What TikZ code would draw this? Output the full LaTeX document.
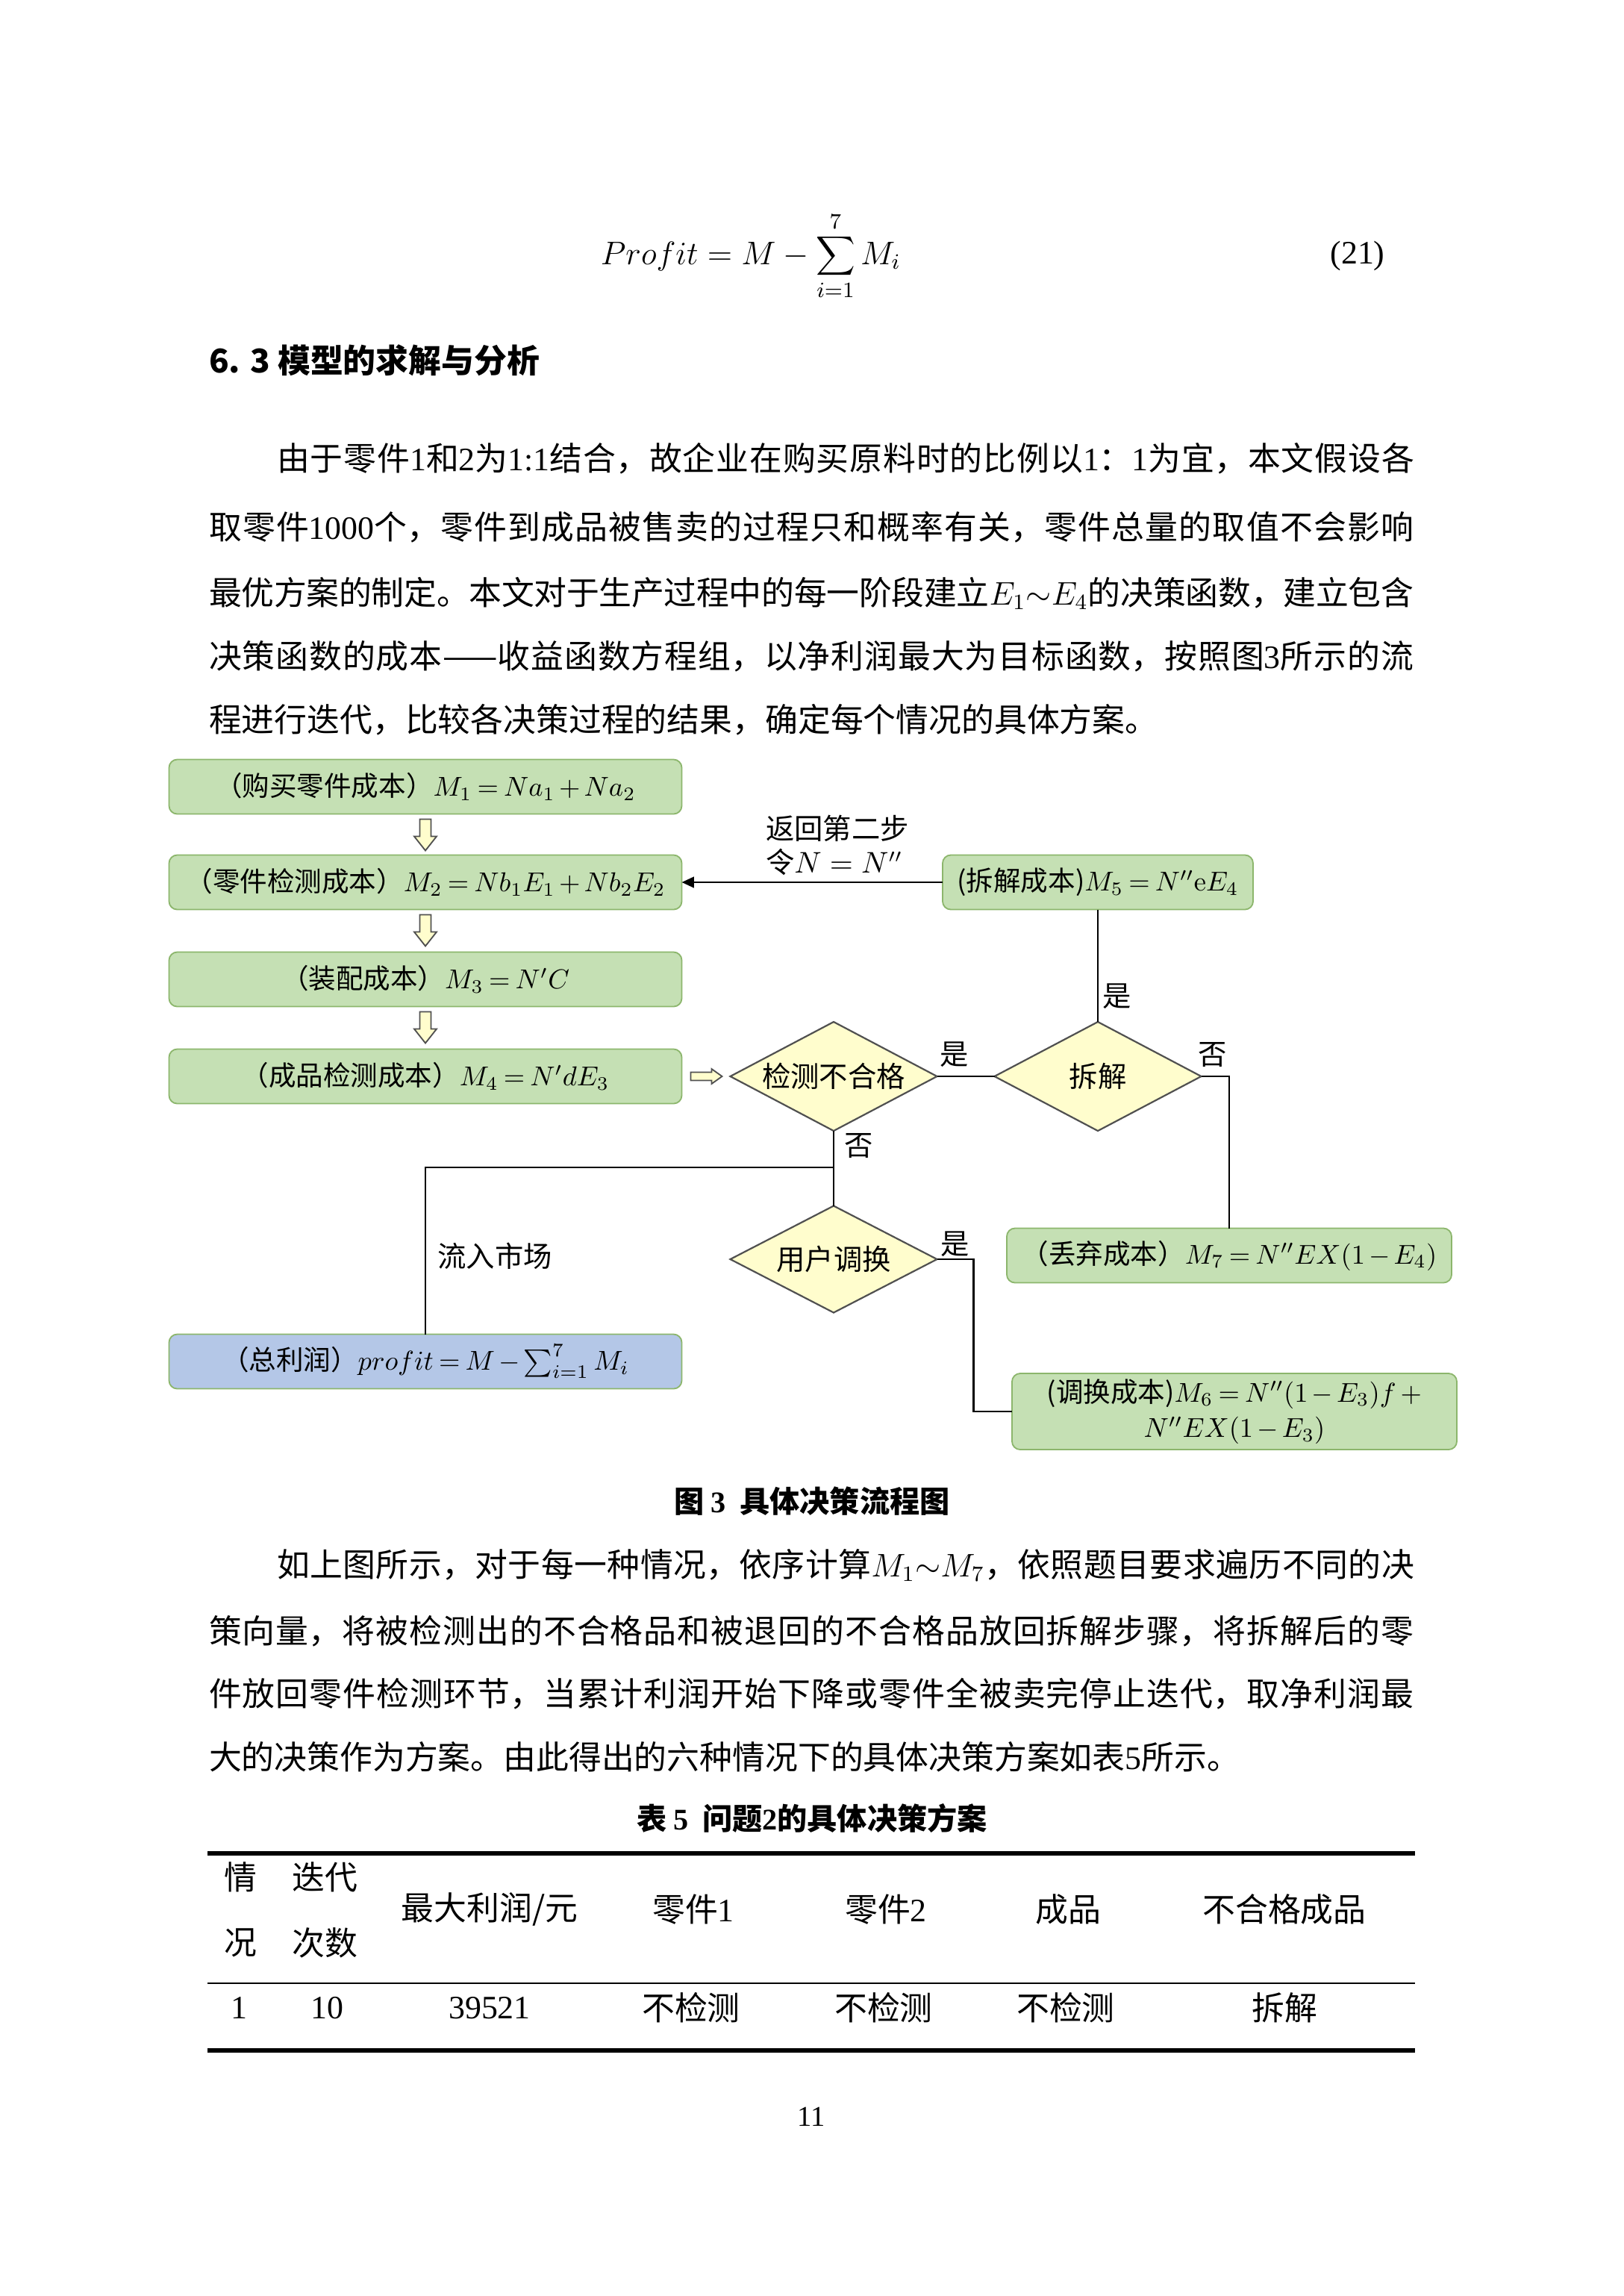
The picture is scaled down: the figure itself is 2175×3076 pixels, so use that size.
\documentclass[tikz,border=0pt]{standalone}
\usepackage[no-math]{fontspec}
\setmainfont{Noto Sans CJK SC}
\newfontfamily\lat{Liberation Serif}
\usetikzlibrary{shapes.geometric,arrows.meta,calc}
\XeTeXlinebreaklocale "zh"
\XeTeXlinebreakskip=0pt plus 3pt minus 0.6pt
\definecolor{gfill}{RGB}{197,224,180}
\definecolor{gline}{RGB}{140,182,108}
\definecolor{bfill}{RGB}{180,199,231}
\definecolor{yfill}{RGB}{255,253,205}
\definecolor{dline}{RGB}{80,80,80}
\def\upx{0.2737pt}
\newcommand\jline[2]{\parbox{#1}{\parfillskip=0pt\relax #2}}
\newcommand\tightmath{\medmuskip=2.5mu plus 1mu minus 1mu\thickmuskip=3.5mu plus 1mu}
\begin{document}
\begin{tikzpicture}[x=0.2737pt,y=-0.2737pt,
  every node/.style={inner sep=0pt, outer sep=0pt},
  body/.style={anchor=west, font=\fontsize{12}{14}\selectfont},
  txt/.style={font=\fontsize{12}{14}\selectfont},
  lbl/.style={font=\fontsize{10.5}{12.5}\selectfont},
  gbox/.style={draw=gline, fill=gfill, rounded corners=3pt, line width=0.5pt,
    minimum width=687*\upx, minimum height=73*\upx, align=center,
    font=\fontsize{10}{13}\selectfont\tightmath},
  bbox/.style={gbox, fill=bfill},
  dia/.style={diamond, draw=dline, fill=yfill, line width=0.6pt, aspect=1.9,
    minimum width=277*\upx, minimum height=146*\upx,
    font=\fontsize{10.5}{12.5}\selectfont},
  harrow/.style={draw=dline, fill=yfill, line width=0.5pt, line join=miter},
  conn/.style={draw=black, line width=0.7pt},
  ]
\fill[white] (0,0) rectangle (2175,3076);
\useasboundingbox (0,0) rectangle (2175,3076);

% equation
\node[txt] (eq) at (1006,343) {$\displaystyle Profit = M - \sum_{i=1}^{7} M_i$};
\node[txt] (eqn) at (1819,343) {\lat (21)};

% heading
\node[body, font=\fontsize{12}{14}\selectfont\bfseries] (h63) at (280,483) {6. 3 模型的求解与分析};

% paragraph 1
\node[body] (p1a) at (371,614) {\jline{417.1pt}{由于零件{\lat 1}和{\lat 2}为{\lat 1:1}结合，故企业在购买原料时的比例以{\lat 1}：{\lat 1}为宜，本文假设各}};
\node[body] (p1b) at (280,706) {\jline{441.75pt}{取零件{\lat 1000}个，零件到成品被售卖的过程只和概率有关，零件总量的取值不会影响}};
\node[body] (p1c) at (280,795) {\jline{441.75pt}{最优方案的制定。本文对于生产过程中的每一阶段建立$E_1{\sim}E_4$的决策函数，建立包含}};
\node[body] (p1d) at (280,879) {\jline{441.75pt}{决策函数的成本——收益函数方程组，以净利润最大为目标函数，按照图{\lat 3}所示的流}};
\node[body] (p1e) at (280,964) {程进行迭代，比较各决策过程的结果，确定每个情况的具体方案。};

% flowchart boxes
\node[gbox] (m1) at (570,1054) {（购买零件成本）$M_1 = Na_1 + Na_2$};
\node[gbox] (m2) at (570,1182) {（零件检测成本）$M_2 = Nb_1E_1 + Nb_2E_2$};
\node[gbox] (m3) at (570,1312) {（装配成本）$M_3 = N'C$};
\node[gbox] (m4) at (570,1442) {（成品检测成本）$M_4 = N'dE_3$};
\node[gbox, minimum width=416*\upx] (m5) at (1471,1182) {(拆解成本)$M_5 = N''\mathrm{e}E_4$};
\node[dia] (d1) at (1117,1442) {检测不合格};
\node[dia] (d2) at (1471,1442) {拆解};
\node[dia, minimum height=143*\upx] (d3) at (1117,1687) {用户调换};
\node[gbox, minimum width=596*\upx] (m7) at (1647,1682) {（丢弃成本）$M_7 = N''EX(1-E_4)$};
\node[gbox, minimum width=596*\upx, minimum height=102*\upx] (m6) at (1654,1891) {(调换成本)$M_6 = N''(1-E_3)f\,+$\\$N''EX(1-E_3)$};
\node[bbox] (pf) at (570,1824) {（总利润）$profit = M - \sum_{i=1}^{7} M_i$};

% hollow block arrows
\foreach \a/\b in {m1/m2, m2/m3, m3/m4}{
  \draw[harrow] ($(\a.south)+(-7.5,7)$) -- ++(15,0) -- ++(0,23) -- ++(7.5,0)
    -- ++(-15,19) -- ++(-15,-19) -- ++(7.5,0) -- cycle;
}
\draw[harrow] ($(m4.east)+(12,-5.5)$) -- ++(28,0) -- ++(0,-4.5) -- ++(14,10)
  -- ++(-14,10) -- ++(0,-4.5) -- ++(-28,0) -- cycle;

% connectors
\coordinate (j) at (1117,1564);
\draw[conn] (d1.south) -- (d3.north);
\draw[conn] (j) -| (pf.north);
\draw[conn] (d1.east) -- (d2.west);
\draw[conn] (m5.south) -- (d2.north);
\draw[conn] (d2.east) -| (m7.north);
\draw[conn] (d3.east) -- ++(49,0) |- (m6.west);
\draw[conn, -{Triangle[length=4.5pt,width=4pt]}] (m5.west) -- (m2.east);

% labels
\node[lbl] (y1) at (1497,1335) {是};
\node[lbl] (y2) at (1279,1413) {是};
\node[lbl] (n1) at (1625,1413) {否};
\node[lbl] (n2) at (1151,1535) {否};
\node[lbl] (y3) at (1280,1667) {是};
\node[lbl] (mk) at (663,1683) {流入市场};
\node[lbl, anchor=west] (rt1) at (1026,1110) {返回第二步};
\node[lbl, anchor=west] (rt2) at (1026,1155) {令$N = N''$};

% caption
\node[txt, font=\fontsize{11}{13}\selectfont\bfseries] (cap3) at (1088,2011) {图 {\lat\bfseries 3} \ 具体决策流程图};

% paragraph 2
\node[body] (p2a) at (371,2097) {\jline{417.1pt}{如上图所示，对于每一种情况，依序计算$M_1{\sim}M_7$，依照题目要求遍历不同的决}};
\node[body] (p2b) at (280,2185) {\jline{441.75pt}{策向量，将被检测出的不合格品和被退回的不合格品放回拆解步骤，将拆解后的零}};
\node[body] (p2c) at (280,2269) {\jline{441.75pt}{件放回零件检测环节，当累计利润开始下降或零件全被卖完停止迭代，取净利润最}};
\node[body] (p2d) at (280,2354) {大的决策作为方案。由此得出的六种情况下的具体决策方案如表{\lat 5}所示。};

% table
\node[txt, font=\fontsize{11}{13}\selectfont\bfseries] (cap5) at (1088,2436) {表 {\lat\bfseries 5} \ 问题{\lat\bfseries 2}的具体决策方案};
\draw[line width=1.6pt] (278,2483) -- (1896,2483);
\draw[line width=0.8pt] (278,2657) -- (1896,2657);
\draw[line width=1.6pt] (278,2747) -- (1896,2747);
\node[txt] (t11) at (322,2515) {情};
\node[txt] (t12) at (322,2603) {况};
\node[txt] (t21) at (435,2515) {迭代};
\node[txt] (t22) at (435,2603) {次数};
\node[txt] (t3) at (656,2558) {最大利润/元};
\node[txt] (t4) at (929,2558) {零件{\lat 1}};
\node[txt] (t5) at (1187,2558) {零件{\lat 2}};
\node[txt] (t6) at (1431,2558) {成品};
\node[txt] (t7) at (1721,2558) {不合格成品};
\node[txt] (r1) at (320,2690) {\lat 1};
\node[txt] (r2) at (438,2690) {\lat 10};
\node[txt] (r3) at (656,2690) {\lat 39521};
\node[txt] (r4) at (926,2690) {不检测};
\node[txt] (r5) at (1184,2690) {不检测};
\node[txt] (r6) at (1428,2690) {不检测};
\node[txt] (r7) at (1721,2690) {拆解};

% page number
\node[font=\fontsize{10.5}{12}\selectfont\lat] (pg) at (1087,2836) {11};
\end{tikzpicture}
\end{document}
